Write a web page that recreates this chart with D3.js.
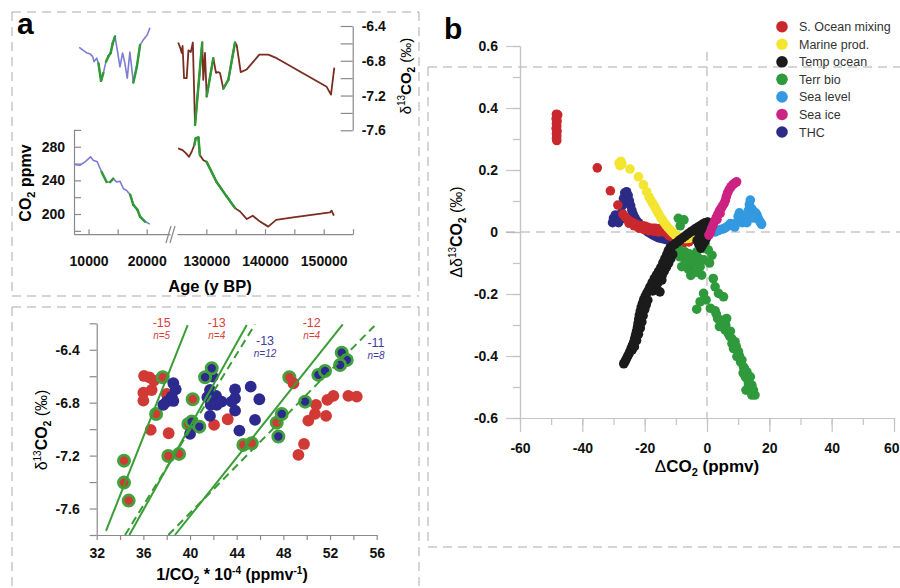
<!DOCTYPE html>
<html><head><meta charset="utf-8">
<script src="https://cdn.jsdelivr.net/npm/d3@7"></script>
<style>body{margin:0;background:#fff}svg{display:block}text{font-family:"Liberation Sans",Arial,Helvetica,sans-serif}</style>
</head><body><svg id="c" width="900" height="588"></svg>
<script>
// ---------------- DATA ----------------
// Panel a (top): time series  [age (y BP), value]
const d13Left = [[8400,-6.645],[9100,-6.68],[9700,-6.71],[10250,-6.72],[10700,-6.75],[10950,-6.81],[11400,-6.77],[11700,-6.83],[12150,-7.03],[12550,-6.94],[13000,-6.81],[13400,-6.75],[13800,-6.71],[14150,-6.60],[14550,-6.52],[14950,-6.68],[15400,-6.87],[15850,-6.71],[16250,-6.83],[16650,-7.00],[17100,-6.70],[17400,-6.87],[17700,-7.05],[18300,-6.87],[18850,-6.62],[19400,-6.56],[20100,-6.50],[20550,-6.42]];
const d13LeftFit = [[11900,12600],[13000,14600],[17600,18900]];
const co2Left = [[7500,259],[8500,258],[9400,262],[10350,268],[10800,264],[11500,262],[12250,250],[13100,238],[13700,238],[14250,242],[14850,238],[15400,239],[16000,230],[16550,228],[17150,223],[17700,211],[18400,205],[18850,197],[19700,191],[20550,188]];
const co2LeftFit = [[11900,13100],[13800,14300],[17300,18300],[18600,20000]];
const d13Right = [[125200,-6.59],[125600,-6.66],[125800,-6.71],[125950,-6.63],[126200,-7.00],[126650,-7.00],[126950,-6.68],[127350,-6.70],[127700,-6.59],[128070,-7.54],[129300,-6.59],[129480,-7.02],[129770,-6.71],[130060,-7.21],[131190,-6.77],[131650,-6.94],[132040,-6.93],[132330,-6.94],[132890,-7.12],[133750,-7.02],[134890,-6.59],[135180,-6.62],[135860,-6.93],[136880,-6.90],[139030,-6.73],[140560,-6.73],[141990,-6.77],[150510,-7.10],[151250,-7.19],[151810,-6.88]];
const d13RightFit = [[128070,129300],[130060,131190],[132890,134890]];
const co2Right = [[125200,278],[125950,276],[126550,272],[127050,268],[127500,274],[127950,282],[128200,290],[128650,291],[128900,270],[129500,264],[130050,262],[131750,238],[133450,221],[134900,207],[135750,203],[136900,194],[137900,198],[139150,191],[140550,185],[141900,193],[144800,196],[151100,202],[151350,204],[151750,198]];
const co2RightFit = [[127800,129000],[129900,135000]];

const ageTicksLeft = [10000,15000,20000];
const ageLabelsLeft = [10000,20000];
const ageTicksRight = [130000,135000,140000,145000,150000,155000];
const ageLabelsRight = [130000,140000,150000];
const co2Ticks = [180,200,220,240,260,280,300];
const co2Labels = [200,240,280];
const d13Ticks = [-7.6,-7.4,-7.2,-7.0,-6.8,-6.6,-6.4];
const d13Labels = [-7.6,-7.2,-6.8,-6.4];

// Panel a (bottom): Keeling-type scatter [1/CO2*1e4, d13C, inFit]
const keelRed = [[36.06,-6.598,0],[36.51,-6.608,0],[36.91,-6.633,0],[36.0,-6.724,0],[36.71,-6.704,0],[38.0,-6.734,0],[36.0,-6.784,0],[36.63,-7.006,0],[38.17,-7.031,0],[37.66,-6.608,1],[37.09,-6.885,1],[34.34,-7.238,1],[34.34,-7.404,1],[34.74,-7.54,1],[38.14,-7.203,1],[39.06,-7.187,1],[39.86,-6.961,1],[40.23,-6.774,1],[42.06,-6.968,0],[43.23,-6.925,0],[44.57,-7.119,1],[45.29,-7.107,1],[47.43,-6.951,1],[48.51,-6.608,1],[48.86,-6.653,0],[49.29,-7.195,0],[49.77,-7.112,0],[50.14,-6.935,0],[50.71,-6.885,0],[50.8,-6.817,0],[51.66,-6.900,0],[51.77,-6.779,0],[52.29,-6.749,0],[53.57,-6.749,0],[54.29,-6.754,0]];
const keelBlue = [[38.57,-6.653,0],[38.77,-6.699,0],[38.43,-6.754,0],[38.0,-6.792,0],[38.57,-6.787,0],[37.71,-6.817,0],[41.94,-6.603,0],[41.71,-6.704,0],[42.23,-6.749,0],[41.49,-6.759,0],[41.77,-6.817,0],[42.29,-6.817,0],[41.71,-6.900,0],[42.71,-6.792,0],[43.86,-6.699,0],[43.86,-6.767,0],[43.86,-6.86,0],[43.57,-6.792,0],[45.2,-6.679,0],[45.94,-6.774,0],[45.57,-6.93,0],[44.23,-7.011,0],[40.0,-7.036,0],[41.86,-6.540,1],[41.29,-6.608,1],[40.14,-6.943,1],[40.8,-6.981,1],[49.86,-6.792,1],[47.86,-6.885,1],[47.57,-7.056,1],[51.0,-6.59,1],[51.57,-6.56,1],[53.0,-6.422,1],[53.43,-6.477,1],[52.86,-6.515,1]];
const fitSolid = [[32.8,-7.768,39.8,-6.213],[34.8,-7.8,44.86,-6.213],[38.71,-7.8,53.09,-6.208]];
const fitDashed = [[34.43,-7.8,45.57,-6.208],[38.14,-7.8,55.8,-6.22]];
const fitLabels = [["-15","n=5","red",37.57,-6.23],["-13","n=4","red",42.29,-6.23],["-13","n=12","blue",46.43,-6.364],["-12","n=4","red",50.43,-6.23],["-11","n=8","blue",55.94,-6.381]];
const keelXTicks = [32,34,36,38,40,42,44,46,48,50,52,54,56];
const keelXLabels = [32,36,40,44,48,52,56];
const keelYTicks = [-7.8,-7.6,-7.4,-7.2,-7.0,-6.8,-6.6,-6.4,-6.2];
const keelYLabels = [-7.6,-7.2,-6.8,-6.4];

// Panel b: model sensitivity [dCO2, dd13C]
const seriesNames = ["S. Ocean mixing","Marine prod.","Temp ocean","Terr bio","Sea level","Sea ice","THC"];
const sOcean = [[-48.3,0.38],[-47.9,0.378],[-48.2,0.372],[-48.4,0.365],[-48.1,0.358],[-48.3,0.35],[-48.2,0.342],[-48.4,0.334],[-48.1,0.326],[-48.3,0.318],[-48.2,0.31],[-48.3,0.302],[-48.2,0.295],[-35.2,0.207],[-31.0,0.133],[-28.6,0.087],[-27.0,0.058],[-26.2,0.048],[-25.4,0.04],[-24.6,0.034],[-23.8,0.03],[-23.0,0.026],[-22.2,0.022],[-21.4,0.02],[-20.6,0.02],[-19.8,0.018],[-19.0,0.015],[-18.2,0.012],[-17.4,0.012],[-16.6,0.012],[-15.8,0.01],[-15.0,0.01],[-14.2,0.015],[-13.4,0.008],[-12.6,0.0],[-11.8,-0.008],[-11.0,-0.014],[-10.2,-0.02],[-9.4,-0.024],[-8.6,-0.026],[-7.8,-0.028],[-7.0,-0.028],[-6.2,-0.026],[-25.0,0.028],[-23.4,0.02],[-21.8,0.012],[-20.2,0.008],[-18.6,0.004],[-17.0,0.002],[-15.4,0.0],[-13.8,0.0],[-12.2,-0.012],[-10.6,-0.024],[-9.0,-0.032],[-7.4,-0.034],[-5.8,-0.032]];
const marineProd = [[-28.2,0.222],[-27.6,0.228],[-27.9,0.214],[-27.3,0.219],[-24.7,0.203],[-22.0,0.178],[-20.4,0.152],[-19.4,0.13],[-18.6,0.113],[-18.0,0.102],[-17.4,0.092],[-16.8,0.082],[-16.2,0.071],[-15.6,0.06],[-15.0,0.049],[-14.4,0.04],[-13.8,0.031],[-13.2,0.023],[-12.6,0.016],[-12.0,0.009],[-11.4,0.002],[-10.8,-0.004],[-10.2,-0.009],[-9.6,-0.013],[-9.0,-0.016],[-8.4,-0.018],[-7.8,-0.02],[-7.2,-0.021],[-6.6,-0.021],[-6.0,-0.02],[-5.4,-0.019],[-4.8,-0.017],[-4.2,-0.015],[-3.6,-0.012]];
const tempOcean = [[-26.7,-0.425],[-26.3,-0.418],[-25.9,-0.41],[-25.5,-0.402],[-25.1,-0.394],[-24.7,-0.385],[-24.3,-0.375],[-23.9,-0.365],[-23.5,-0.355],[-23.2,-0.344],[-22.9,-0.332],[-22.6,-0.32],[-22.3,-0.307],[-22.1,-0.294],[-21.9,-0.281],[-21.7,-0.268],[-21.4,-0.255],[-21.1,-0.242],[-20.7,-0.23],[-20.3,-0.218],[-19.8,-0.207],[-19.3,-0.197],[-18.8,-0.188],[-24.0,-0.38],[-23.3,-0.37],[-22.6,-0.35],[-22.0,-0.33],[-21.4,-0.31],[-20.9,-0.29],[-20.5,-0.27],[-20.0,-0.25],[-19.5,-0.235],[-19.0,-0.22],[-18.3,-0.177],[-17.6,-0.163],[-16.9,-0.15],[-16.2,-0.138],[-15.5,-0.126],[-14.8,-0.114],[-14.1,-0.1],[-13.5,-0.086],[-12.9,-0.073],[-12.4,-0.06],[-17.4,-0.19],[-16.6,-0.178],[-15.8,-0.165],[-15.1,-0.152],[-14.4,-0.14],[-13.7,-0.126],[-13.0,-0.113],[-12.3,-0.1],[-11.6,-0.086],[-11.0,-0.072],[-11.8,-0.05],[-11.0,-0.044],[-10.2,-0.038],[-9.4,-0.032],[-8.6,-0.025],[-7.8,-0.019],[-7.0,-0.013],[-6.2,-0.007],[-5.4,-0.001],[-4.6,0.004],[-3.8,0.01],[-3.0,0.015],[-2.2,0.02],[-1.4,0.025],[-0.6,0.03],[0.2,0.032],[1.0,0.028],[1.6,0.018],[1.0,0.005],[0.4,-0.008],[-0.2,-0.02],[-0.8,-0.032],[-1.4,-0.042],[-2.0,-0.052],[-2.6,-0.04],[-3.2,-0.028],[-0.5,0.012],[-1.5,0.0],[-2.5,-0.012],[0.8,0.015],[-14.5,-0.155],[-15.1,-0.193],[-17.7,-0.172],[-14.0,-0.098],[-11.3,-0.074]];
const terrBio = [[-9.2,0.044],[-7.4,0.039],[-8.6,0.02],[-10.8,-0.064],[-9.2,-0.053],[-7.1,-0.064],[-8.7,-0.08],[-6.5,-0.091],[-8.1,-0.112],[-4.9,-0.08],[-3.3,-0.064],[-1.1,-0.053],[0.4,-0.058],[-0.6,-0.037],[-4.9,-0.106],[-2.2,-0.112],[-6.0,-0.12],[-5.2,-0.14],[-3.5,-0.13],[-7.0,-0.1],[-5.8,-0.07],[-2.6,-0.085],[-4.0,-0.095],[-1.0,-0.09],[0.8,-0.1],[1.6,-0.075],[-1.7,-0.139],[2.0,-0.15],[2.6,-0.177],[3.7,-0.198],[5.3,-0.209],[-1.1,-0.198],[-0.3,-0.219],[-2.2,-0.225],[-3.3,-0.249],[1.1,-0.246],[2.6,-0.254],[3.4,-0.279],[4.7,-0.285],[6.3,-0.279],[4.0,-0.305],[5.8,-0.316],[6.8,-0.327],[7.9,-0.343],[9.0,-0.354],[8.5,-0.376],[10.1,-0.386],[9.6,-0.402],[11.2,-0.413],[11.7,-0.435],[12.8,-0.451],[12.3,-0.467],[13.9,-0.467],[13.3,-0.489],[14.4,-0.494],[12.5,-0.51],[14.9,-0.51],[15.4,-0.526],[14.4,-0.526],[5.0,-0.295],[7.2,-0.335],[8.0,-0.36],[9.4,-0.37],[10.4,-0.4],[10.8,-0.42],[12.0,-0.44],[13.0,-0.475],[13.6,-0.505],[11.6,-0.455],[6.0,-0.3],[3.0,-0.265],[7.5,-0.32]];
const seaLevel = [[2.5,0.0],[3.4,0.004],[4.3,0.008],[5.2,0.01],[6.0,0.014],[6.8,0.02],[7.5,0.027],[8.2,0.022],[8.9,0.016],[9.5,0.03],[10.0,0.05],[10.4,0.062],[10.9,0.045],[11.3,0.03],[11.9,0.035],[12.4,0.045],[12.9,0.058],[13.3,0.07],[13.6,0.088],[13.9,0.103],[14.3,0.075],[14.8,0.068],[15.2,0.06],[15.6,0.062],[16.0,0.055],[16.4,0.045],[16.8,0.037],[17.2,0.03],[17.5,0.025],[12.8,0.03],[14.0,0.05],[15.0,0.045]];
const seaIce = [[0.6,-0.01],[1.1,0.0],[1.5,0.012],[2.0,0.024],[2.5,0.036],[3.0,0.047],[3.5,0.058],[4.0,0.068],[4.5,0.076],[5.0,0.084],[5.5,0.092],[5.9,0.102],[6.2,0.114],[6.6,0.126],[7.1,0.137],[7.7,0.146],[8.3,0.153],[8.9,0.158],[9.5,0.162],[4.2,0.06],[3.2,0.04]];
const thc = [[-30.3,0.03],[-30.0,0.045],[-29.4,0.055],[-29.0,0.038],[-28.4,0.03],[-27.8,0.04],[-27.4,0.062],[-27.2,0.085],[-26.8,0.108],[-26.4,0.126],[-25.8,0.13],[-25.3,0.118],[-24.9,0.1],[-24.5,0.085],[-24.1,0.07],[-23.7,0.058],[-23.2,0.047],[-22.7,0.038],[-22.0,0.03],[-21.3,0.022],[-20.5,0.012],[-19.7,0.006],[-18.9,0.0],[-18.1,-0.005],[-17.3,-0.01],[-16.5,-0.014],[-15.7,-0.018],[-14.9,-0.02],[-14.1,-0.022],[-13.3,-0.024],[-12.5,-0.026],[-11.7,-0.03],[-10.9,-0.03]];
const bXTicks = [-60,-50,-40,-30,-20,-10,0,10,20,30,40,50,60];
const bXLabels = [-60,-40,-20,0,20,40,60];
const bYTicks = [-0.6,-0.5,-0.4,-0.3,-0.2,-0.1,0,0.1,0.2,0.3,0.4,0.5,0.6];
const bYLabels = [-0.6,-0.4,-0.2,0,0.2,0.4,0.6];

// ---------------- STYLE ----------------
const C = {blue:"#7c7cd2", green:"#2f9a36", brown:"#7b2d22", axis:"#8a8a8a", axisB:"#c4c4c4", dash:"#ababab",
  kRed:"#d13a34", kBlue:"#2c2a8e", fit:"#3a9d36"};
const bColors = ["#c9282d","#f3e530","#1b1b1b","#2f9a3c","#3399e0","#cc2282","#2c2b86"];
const svg = d3.select("#c");

function dline(x1,y1,x2,y2){
  svg.append("line").attr("x1",x1).attr("y1",y1).attr("x2",x2).attr("y2",y2)
    .attr("stroke",C.dash).attr("stroke-width",1).attr("stroke-dasharray","9,6");
}
function styleAxis(g, col, sw){
  g.selectAll("path.domain").attr("stroke",col).attr("stroke-width",sw||1.2);
  g.selectAll(".tick line").attr("stroke",col).attr("stroke-width",sw||1.2);
  g.selectAll("text").attr("font-family",'"Liberation Sans",Arial,sans-serif').attr("font-weight","bold").attr("font-size","14px").attr("fill","#111");
}
const fmt1 = d=>d.toFixed(1);

// panel borders
dline(12,12,419,12); dline(12,12,12,296); dline(419,12,419,296); dline(12,296,419,296);
dline(12,307,419,307); dline(12,307,12,588); dline(419,307,419,588);
dline(428,67,900,67); dline(428,67,428,547); dline(428,547,900,547);

// ---------------- PANEL a top ----------------
const xL = d3.scaleLinear().domain([7500,24000]).range([74,170]);
const xR = d3.scaleLinear().domain([125000,155000]).range([177,353]);
const yC = d3.scaleLinear().domain([176,300]).range([234.2,129.9]);
const yD = d3.scaleLinear().domain([-7.6,-6.4]).range([130.3,26]);

let g;
g = svg.append("g").attr("transform","translate(74,0)")
  .call(d3.axisLeft(yC).tickValues(co2Ticks).tickSize(-7).tickSizeOuter(0).tickPadding(9)
  .tickFormat(d=>co2Labels.includes(d)?d:""));
styleAxis(g, C.axis);
g = svg.append("g").attr("transform","translate(352.7,0)")
  .call(d3.axisRight(yD).tickValues(d13Ticks).tickSize(-12).tickSizeOuter(0).tickPadding(9)
  .tickFormat(d=>d13Labels.some(v=>Math.abs(v-d)<1e-9)?fmt1(d):""));
styleAxis(g, C.axis);
g = svg.append("g").attr("transform","translate(0,234.2)")
  .call(d3.axisBottom(xL).tickValues(ageTicksLeft).tickSize(-5).tickSizeOuter(0).tickPadding(22)
  .tickFormat(d=>ageLabelsLeft.includes(d)?d:""));
styleAxis(g, C.axis);
g = svg.append("g").attr("transform","translate(0,234.2)")
  .call(d3.axisBottom(xR).tickValues(ageTicksRight).tickSize(-5).tickSizeOuter(0).tickPadding(22)
  .tickFormat(d=>ageLabelsRight.includes(d)?d:""));
styleAxis(g, C.axis);
// axis break marks
[168.5,172.5].forEach(x=>svg.append("line").attr("x1",x-2.5).attr("y1",243).attr("x2",x+2.5).attr("y2",226)
  .attr("stroke",C.axis).attr("stroke-width",1.2));

function drawTS(data, xs, ys, fits, base){
  const line = d3.line().x(d=>xs(d[0])).y(d=>ys(d[1]));
  svg.append("path").attr("d",line(data)).attr("fill","none").attr("stroke",base)
    .attr("stroke-width",base===C.blue?1.6:1.8).attr("stroke-linejoin","round");
  for(let i=0;i<data.length-1;i++){
    const m=(data[i][0]+data[i+1][0])/2;
    if(fits.some(r=>m>=r[0]&&m<=r[1])){
      svg.append("path").attr("d",line([data[i],data[i+1]])).attr("fill","none")
        .attr("stroke",C.green).attr("stroke-width",2.5).attr("stroke-linecap","round");
    }
  }
}
drawTS(d13Left, xL, yD, d13LeftFit, C.blue);
drawTS(co2Left, xL, yC, co2LeftFit, C.blue);
drawTS(d13Right, xR, yD, d13RightFit, C.brown);
drawTS(co2Right, xR, yC, co2RightFit, C.brown);

svg.append("text").attr("x",17).attr("y",33.5).attr("font-size","30px").attr("font-weight","bold").text("a");
// titles
let t = svg.append("text").attr("transform","translate(31,183) rotate(-90)").attr("text-anchor","middle")
  .attr("font-weight","bold").attr("font-size","16px");
t.append("tspan").text("CO");
t.append("tspan").attr("font-size","11px").attr("dy","4").text("2");
t.append("tspan").attr("dy","-4").text(" ppmv");
t = svg.append("text").attr("transform","translate(411,76) rotate(-90)").attr("text-anchor","middle")
  .attr("font-weight","bold").attr("font-size","15px");
t.append("tspan").attr("font-weight","normal").text("δ");
t.append("tspan").attr("font-size","10px").attr("dy","-6").attr("font-weight","normal").text("13");
t.append("tspan").attr("dy","6").text("CO");
t.append("tspan").attr("font-size","10px").attr("dy","4").text("2");
t.append("tspan").attr("dy","-4").attr("font-weight","normal").text(" (‰)");
svg.append("text").attr("x",210).attr("y",291.5).attr("text-anchor","middle").attr("font-weight","bold")
  .attr("font-size","16.5px").text("Age (y BP)");

// ---------------- PANEL a bottom ----------------
const xS = d3.scaleLinear().domain([32,56]).range([96.7,376.7]);
const yS = d3.scaleLinear().domain([-7.8,-6.2]).range([535,323.3]);
g = svg.append("g").attr("transform","translate(96.7,0)")
  .call(d3.axisLeft(yS).tickValues(keelYTicks).tickSize(7).tickSizeOuter(0).tickPadding(10)
  .tickFormat(d=>keelYLabels.some(v=>Math.abs(v-d)<1e-9)?fmt1(d):""));
styleAxis(g, C.axis);
g = svg.append("g").attr("transform","translate(0,535)")
  .call(d3.axisBottom(xS).tickValues(keelXTicks).tickSize(5).tickSizeOuter(0).tickPadding(8)
  .tickFormat(d=>keelXLabels.includes(d)?d:""));
styleAxis(g, C.axis);

function drawKeel(data, col){
  data.forEach(d=>{
    svg.append("circle").attr("cx",xS(d[0])).attr("cy",yS(d[1])).attr("r",d[2]?5.6:5.9)
      .attr("fill",col).attr("stroke",d[2]?"#44a23c":"none").attr("stroke-width",d[2]?2.8:0);
  });
}
drawKeel(keelRed, C.kRed);
drawKeel(keelBlue, C.kBlue);
fitSolid.forEach(f=>svg.append("line").attr("x1",xS(f[0])).attr("y1",yS(f[1])).attr("x2",xS(f[2])).attr("y2",yS(f[3]))
  .attr("stroke",C.fit).attr("stroke-width",2));
fitDashed.forEach(f=>svg.append("line").attr("x1",xS(f[0])).attr("y1",yS(f[1])).attr("x2",xS(f[2])).attr("y2",yS(f[3]))
  .attr("stroke",C.fit).attr("stroke-width",2).attr("stroke-dasharray","8,5"));
fitLabels.forEach(f=>{
  const col = f[2]==="red"?"#d8403a":"#3f3ca0";
  svg.append("text").attr("x",xS(f[3])).attr("y",yS(f[4])).attr("text-anchor","middle")
    .attr("font-size","12.5px").attr("fill",col).text(f[0]);
  svg.append("text").attr("x",xS(f[3])).attr("y",yS(f[4])+12).attr("text-anchor","middle")
    .attr("font-size","10px").attr("font-style","italic").attr("fill",col).text(f[1]);
});
t = svg.append("text").attr("transform","translate(47,430) rotate(-90)").attr("text-anchor","middle")
  .attr("font-weight","bold").attr("font-size","16px");
t.append("tspan").attr("font-weight","normal").text("δ");
t.append("tspan").attr("font-size","10px").attr("dy","-6").attr("font-weight","normal").text("13");
t.append("tspan").attr("dy","6").text("CO");
t.append("tspan").attr("font-size","10px").attr("dy","4").text("2");
t.append("tspan").attr("dy","-4").attr("font-weight","normal").text(" (‰)");
t = svg.append("text").attr("x",232).attr("y",580).attr("text-anchor","middle")
  .attr("font-weight","bold").attr("font-size","16px");
t.append("tspan").text("1/CO");
t.append("tspan").attr("font-size","10px").attr("dy","4").text("2");
t.append("tspan").attr("dy","-4").text(" * 10");
t.append("tspan").attr("font-size","10px").attr("dy","-6").text("-4");
t.append("tspan").attr("dy","6").text(" (ppmv");
t.append("tspan").attr("font-size","10px").attr("dy","-6").text("-1");
t.append("tspan").attr("dy","6").text(")");

// ---------------- PANEL b ----------------
const xB = d3.scaleLinear().domain([-60,60]).range([520,894]);
const yB = d3.scaleLinear().domain([-0.6,0.6]).range([418,46]);
g = svg.append("g").attr("transform","translate(520,0)")
  .call(d3.axisLeft(yB).tickValues(bYTicks).tickSize(7).tickSizeOuter(0).tickFormat(""));
styleAxis(g, C.axisB);
g = svg.append("g").attr("transform","translate(520,0)")
  .call(d3.axisLeft(yB).tickValues(bYLabels).tickSize(14).tickSizeOuter(0).tickPadding(8)
  .tickFormat(d=>Math.abs(d)<1e-9?"0":fmt1(d)));
styleAxis(g, C.axisB);
g = svg.append("g").attr("transform","translate(0,418)")
  .call(d3.axisBottom(xB).tickValues(bXTicks).tickSize(7).tickSizeOuter(0).tickFormat(""));
styleAxis(g, C.axisB);
g = svg.append("g").attr("transform","translate(0,418)")
  .call(d3.axisBottom(xB).tickValues(bXLabels).tickSize(14).tickSizeOuter(0).tickPadding(11)
  .tickFormat(d=>d));
styleAxis(g, C.axisB);
// keep the last label inside the page edge
g.selectAll(".tick text").filter(d=>d===60).attr("text-anchor","end").attr("x",5);

// zero lines
svg.append("line").attr("x1",506).attr("x2",900).attr("y1",yB(0)).attr("y2",yB(0))
  .attr("stroke",C.dash).attr("stroke-width",1).attr("stroke-dasharray","9,6");
svg.append("line").attr("x1",xB(0)).attr("x2",xB(0)).attr("y1",52).attr("y2",yB(-0.6))
  .attr("stroke",C.dash).attr("stroke-width",1).attr("stroke-dasharray","9,6");

const bSeries = [sOcean, marineProd, tempOcean, terrBio, seaLevel, seaIce, thc];
const drawOrder = [6,0,1,3,2,4,5];
drawOrder.forEach(i=>{
  svg.append("g").selectAll("circle").data(bSeries[i]).join("circle")
    .attr("cx",d=>xB(d[0])).attr("cy",d=>yB(d[1])).attr("r",4.8).attr("fill",bColors[i]);
});
// legend
seriesNames.forEach((n,i)=>{
  const y = 26.7 + i*17.55;
  svg.append("circle").attr("cx",782).attr("cy",y).attr("r",5.8).attr("fill",bColors[i]);
  svg.append("text").attr("x",799).attr("y",y+4.5).attr("font-size","12.5px").attr("fill","#333").text(n);
});
svg.append("text").attr("x",444).attr("y",38.5).attr("font-size","30px").attr("font-weight","bold").text("b");
t = svg.append("text").attr("transform","translate(462,232) rotate(-90)").attr("text-anchor","middle")
  .attr("font-weight","bold").attr("font-size","16px");
t.append("tspan").attr("font-weight","normal").text("Δδ");
t.append("tspan").attr("font-size","10px").attr("dy","-6").attr("font-weight","normal").text("13");
t.append("tspan").attr("dy","6").text("CO");
t.append("tspan").attr("font-size","10px").attr("dy","4").text("2");
t.append("tspan").attr("dy","-4").attr("font-weight","normal").text(" (‰)");
t = svg.append("text").attr("x",707).attr("y",472).attr("text-anchor","middle")
  .attr("font-weight","bold").attr("font-size","17px");
t.append("tspan").attr("font-weight","normal").text("Δ");
t.append("tspan").text("CO");
t.append("tspan").attr("font-size","11px").attr("dy","4").text("2");
t.append("tspan").attr("dy","-4").text(" (ppmv)");
</script></body></html>
